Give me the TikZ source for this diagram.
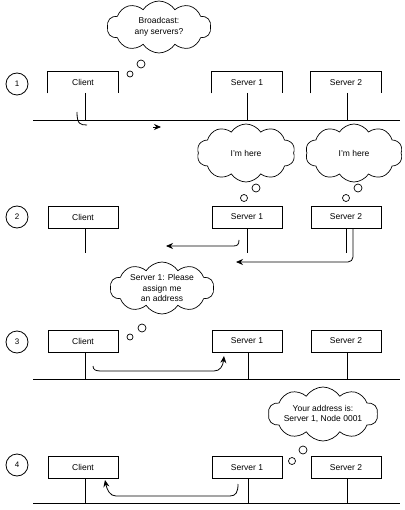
\documentclass[tikz,border=0pt]{standalone}
\usepackage{fontspec}
\setmainfont{Liberation Sans}
\usetikzlibrary{shapes.symbols,arrows.meta}
\begin{document}
\begin{tikzpicture}[x=1pt,y=-1pt,line width=0.8pt,
  every node/.style={font=\fontsize{8.5}{10.5}\selectfont},
  hostbox/.style={draw,minimum width=70pt,minimum height=22pt,inner sep=0pt},
  openbox/.style={minimum width=70pt,minimum height=21pt,inner sep=0pt},
  stepnum/.style={draw,circle,minimum size=22pt,inner sep=0pt,font=\fontsize{8}{9}\selectfont},
  thought/.style={draw,cloud,cloud puffs=10,cloud puff arc=115,cloud ignores aspect,inner sep=0pt,align=center,line width=0.7pt},
  bub/.style={draw,circle,inner sep=0pt,line width=0.7pt},
  bus/.style={line width=0.8pt},
  tip/.style={-{Stealth[length=7pt,width=6pt]}},
  msg/.style={tip,rounded corners=5pt}
]
\useasboundingbox (0,0) rectangle (404,510);

% ---------- Panel 1 ----------
\node[stepnum] (n1) at (17,84) {1};
\node[openbox] (c1) at (83,82.5) {Client};
\node[openbox] (sa1) at (247,82.5) {Server 1};
\node[openbox] (sb1) at (346,82.5) {Server 2};
\draw (c1.south west) |- (c1.north east) -- (c1.south east);
\draw (sa1.south west) |- (sa1.north east) -- (sa1.south east);
\draw (sb1.south west) |- (sb1.north east) -- (sb1.south east);
\coordinate (busl1) at (33,120);
\coordinate (busr1) at (400,120);
\draw[bus] (busl1) -- (busr1);
\coordinate (tc1) at (85,93);
\coordinate (ta1) at (247,93);
\coordinate (tb1) at (347,93);
\draw (tc1) -- (tc1 |- busl1);
\draw (ta1) -- (ta1 |- busl1);
\draw (tb1) -- (tb1 |- busl1);
\coordinate (h1s) at (77,112);
\coordinate (h1e) at (87,125);
\draw (h1s) .. controls (77,124) and (80,125) .. (h1e);
\coordinate (ah1a) at (153,127);
\coordinate (ah1b) at (161,127);
\draw[tip] (ah1a) -- (ah1b);
\node[thought,minimum width=104pt,minimum height=52pt] (k1) at (159,27) {Broadcast:\\any servers?};
\node[bub,minimum size=8pt] (k1a) at (141,64) {};
\node[bub,minimum size=6pt] (k1b) at (130,74) {};

% ---------- Panel 2 ----------
\node[stepnum] (n2) at (17,217) {2};
\node[hostbox] (c2) at (83,217) {Client};
\node[hostbox] (sa2) at (247,217) {Server 1};
\node[hostbox] (sb2) at (346,217) {Server 2};
\coordinate (lc2) at (85,253);
\coordinate (la2) at (247,253);
\coordinate (lb2) at (346,253);
\draw (c2.south -| lc2) -- (lc2);
\draw (sa2.south -| la2) -- (la2);
\draw (sb2.south -| lb2) -- (lb2);
\coordinate (a2s) at (239,240);
\coordinate (a2e) at (166,246);
\draw[tip] (a2s) .. controls (239,245) and (237,246) .. (233,246) -- (a2e);
\coordinate (b2s) at (353,228);
\coordinate (b2e) at (236,262);
\draw[msg] (b2s) |- (b2e);
\node[thought,minimum width=98pt,minimum height=58pt] (k2) at (246,153) {I'm here};
\node[bub,minimum size=8pt] (k2a) at (256,188) {};
\node[bub,minimum size=7pt] (k2b) at (244,198) {};
\node[thought,minimum width=97pt,minimum height=58pt] (k3) at (354,153) {I'm here};
\node[bub,minimum size=8pt] (k3a) at (358,188) {};
\node[bub,minimum size=7pt] (k3b) at (346,198) {};

% ---------- Panel 3 ----------
\node[stepnum] (n3) at (17,342) {3};
\node[hostbox] (c3) at (83,341) {Client};
\node[hostbox] (sa3) at (247,341) {Server 1};
\node[hostbox] (sb3) at (346,341) {Server 2};
\coordinate (busl3) at (33,379);
\coordinate (busr3) at (400,379);
\draw[bus] (busl3) -- (busr3);
\coordinate (lc3) at (85,379);
\coordinate (la3) at (248,379);
\coordinate (lb3) at (347,379);
\draw (c3.south -| lc3) -- (lc3);
\draw (sa3.south -| la3) -- (la3);
\draw (sb3.south -| lb3) -- (lb3);
\coordinate (a3s) at (93,366);
\coordinate (a3e) at (224,356);
\draw[tip] (a3s) .. controls (93,370) and (96,371) .. (101,371) -- (214,371) .. controls (220,371) and (223,366) .. (a3e);
\node[thought,minimum width=104pt,minimum height=52pt] (k4) at (162,288) {Server 1: Please\\assign me\\an address};
\node[bub,minimum size=8pt] (k4a) at (142,328) {};
\node[bub,minimum size=6pt] (k4b) at (130,337) {};

% ---------- Panel 4 ----------
\node[stepnum] (n4) at (17,465) {4};
\node[hostbox] (c4) at (83,467.5) {Client};
\node[hostbox] (sa4) at (247,467.5) {Server 1};
\node[hostbox] (sb4) at (346,467.5) {Server 2};
\coordinate (busl4) at (33,503);
\coordinate (busr4) at (400,503);
\draw[bus] (busl4) -- (busr4);
\coordinate (lc4) at (85,503);
\coordinate (la4) at (248,503);
\coordinate (lb4) at (347,503);
\draw (c4.south -| lc4) -- (lc4);
\draw (sa4.south -| la4) -- (la4);
\draw (sb4.south -| lb4) -- (lb4);
\coordinate (a4s) at (238,484);
\coordinate (a4e) at (105,480);
\draw[tip] (a4s) .. controls (238,492) and (236,496) .. (230,496) -- (116,496) .. controls (110,496) and (107,490) .. (a4e);
\node[thought,minimum width=101pt,minimum height=54pt] (k5) at (323,414) {Your address is:\\Server 1, Node 0001};
\node[bub,minimum size=8pt] (k5a) at (303,450) {};
\node[bub,minimum size=7pt] (k5b) at (292,461) {};
\end{tikzpicture}
\end{document}
